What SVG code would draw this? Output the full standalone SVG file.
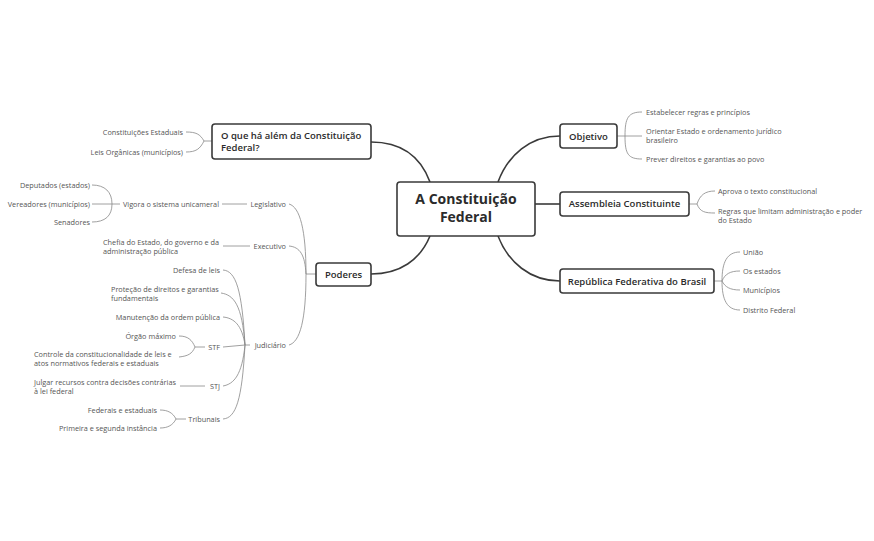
<svg xmlns="http://www.w3.org/2000/svg" width="874" height="541" viewBox="0 0 874 541">
<style>
.n rect{fill:#fff;stroke:#3a3a3a;stroke-width:1.6}
.n text{font-family:"Open Sans",sans-serif;font-size:9.5px;fill:#2b2b2b;font-weight:600}
.t{font-family:"Open Sans",sans-serif;font-size:7.3px;fill:#555}
.r{text-anchor:end}
.c path{fill:none;stroke:#888;stroke-width:0.8}
.c path.m{stroke:#3a3a3a;stroke-width:1.6}
</style>
<rect width="874" height="541" fill="#fff"/>
<g class="c">
<path class="m" d="M430,182 C420,155 400,142 371,142"/>
<path class="m" d="M430,236 C420,260 400,274 371,274"/>
<path class="m" d="M498,182 C508,155 530,136 560,136"/>
<path class="m" d="M535,204 L560,204"/>
<path class="m" d="M498,236 C508,262 530,281 560,281"/>
<path d="M617,136 L625,136 M625,136 C625,118 628,112 642,112 M625,136 L642,136 M625,136 C625,154 628,159 642,159"/>
<path d="M689,204 L697,204 M697,204 C700,195 705,191 715,191 M697,204 C700,212 705,213 715,213"/>
<path d="M714,281 L722,281 M722,281 C722,262 727,252 740,252 M722,281 C725,274 730,271 740,271 M722,281 C725,287 730,290 740,290 M722,281 C722,300 727,310 740,310"/>
<path d="M212,141 L204,141 M204,141 C200,134 196,132 186,132 M204,141 C200,149 196,152 186,152"/>
<path d="M316,274 L306,274 M306,274 C306,230 300,207 289,204 M306,274 C305,255 300,247 289,246 M306,274 C306,320 300,342 289,345"/>
<path d="M222,204 L247,204 M120,204 L92,204 M112,204 C112,192 105,185 92,185 M112,204 C112,216 105,222 92,222"/>
<path d="M223,246 L250,246"/>
<path d="M250,345 L245,345 M245,345 C242,290 236,271 223,270 M245,345 C242,305 234,295 221,293 M245,345 C242,325 234,318 223,317 M245,345 L223,347 M245,345 C242,375 234,384 223,386 M245,345 C242,400 236,418 223,419"/>
<path d="M205,347 L195,347 M195,347 C192,340 188,336 179,336 M195,347 C192,354 188,356 179,357"/>
<path d="M205,386 L180,386"/>
<path d="M186,419 L176,419 M176,419 C173,413 168,410 160,410 M176,419 C173,425 168,428 160,428"/>
</g>
<g id="central" class="n"><rect x="397" y="182" width="138" height="54" rx="3"/>
<text x="466" y="204" text-anchor="middle" style="font-size:14px;font-weight:700">A Constituição</text>
<text x="466" y="222" text-anchor="middle" style="font-size:14px;font-weight:700">Federal</text></g>
<g id="objetivo" class="n"><rect x="560" y="124" width="57" height="24" rx="3"/><text x="588.5" y="139.5" text-anchor="middle">Objetivo</text></g>
<g id="assembleia" class="n"><rect x="560" y="192" width="129" height="24" rx="3"/><text x="624.5" y="207" text-anchor="middle">Assembleia Constituinte</text></g>
<g id="republica" class="n"><rect x="560" y="269" width="154" height="24" rx="3"/><text x="637" y="284.5" text-anchor="middle">República Federativa do Brasil</text></g>
<g id="alem" class="n"><rect x="212" y="124" width="159" height="35" rx="3"/><text x="221" y="139">O que há além da Constituição</text><text x="221" y="151">Federal?</text></g>
<g id="poderes" class="n"><rect x="316" y="263" width="55" height="23" rx="3"/><text x="343.5" y="278" text-anchor="middle">Poderes</text></g>
<g id="objetivo-items">
<text class="t" x="646" y="115">Estabelecer regras e princípios</text>
<text class="t" x="646" y="134">Orientar Estado e ordenamento jurídico</text>
<text class="t" x="646" y="143">brasileiro</text>
<text class="t" x="646" y="162">Prever direitos e garantias ao povo</text></g>
<g id="assembleia-items">
<text class="t" x="718" y="194">Aprova o texto constitucional</text>
<text class="t" x="718" y="214">Regras que limitam administração e poder</text>
<text class="t" x="718" y="223">do Estado</text></g>
<g id="republica-items">
<text class="t" x="743" y="255">União</text><text class="t" x="743" y="274">Os estados</text>
<text class="t" x="743" y="293">Municípios</text><text class="t" x="743" y="313">Distrito Federal</text></g>
<g id="alem-items">
<text class="t r" x="183" y="135">Constituições Estaduais</text>
<text class="t r" x="183" y="155">Leis Orgânicas (municípios)</text></g>
<g id="legislativo">
<text class="t r" x="286" y="207">Legislativo</text>
<text class="t r" x="219" y="207">Vigora o sistema unicameral</text>
<text class="t r" x="90" y="188">Deputados (estados)</text>
<text class="t r" x="90" y="207">Vereadores (municípios)</text>
<text class="t r" x="90" y="225">Senadores</text></g>
<g id="executivo">
<text class="t r" x="286" y="249">Executivo</text>
<text class="t" x="103" y="245">Chefia do Estado, do governo e da</text>
<text class="t" x="103" y="254">administração pública</text></g>
<g id="judiciario">
<text class="t r" x="286" y="348">Judiciário</text>
<text class="t r" x="220" y="273">Defesa de leis</text>
<text class="t" x="111" y="292">Proteção de direitos e garantias</text>
<text class="t" x="111" y="301">fundamentais</text>
<text class="t r" x="220" y="320">Manutenção da ordem pública</text>
<text class="t r" x="220" y="350">STF</text>
<text class="t r" x="176" y="339">Órgão máximo</text>
<text class="t" x="34" y="357">Controle  da constitucionalidade de leis e</text>
<text class="t" x="34" y="366">atos normativos federais e estaduais</text>
<text class="t r" x="220" y="389">STJ</text>
<text class="t" x="34" y="385">Julgar recursos contra decisões contrárias</text>
<text class="t" x="34" y="394">à lei federal</text>
<text class="t r" x="220" y="422">Tribunais</text>
<text class="t r" x="157" y="413">Federais e estaduais</text>
<text class="t r" x="157" y="431">Primeira e segunda instância</text></g>
</svg>
